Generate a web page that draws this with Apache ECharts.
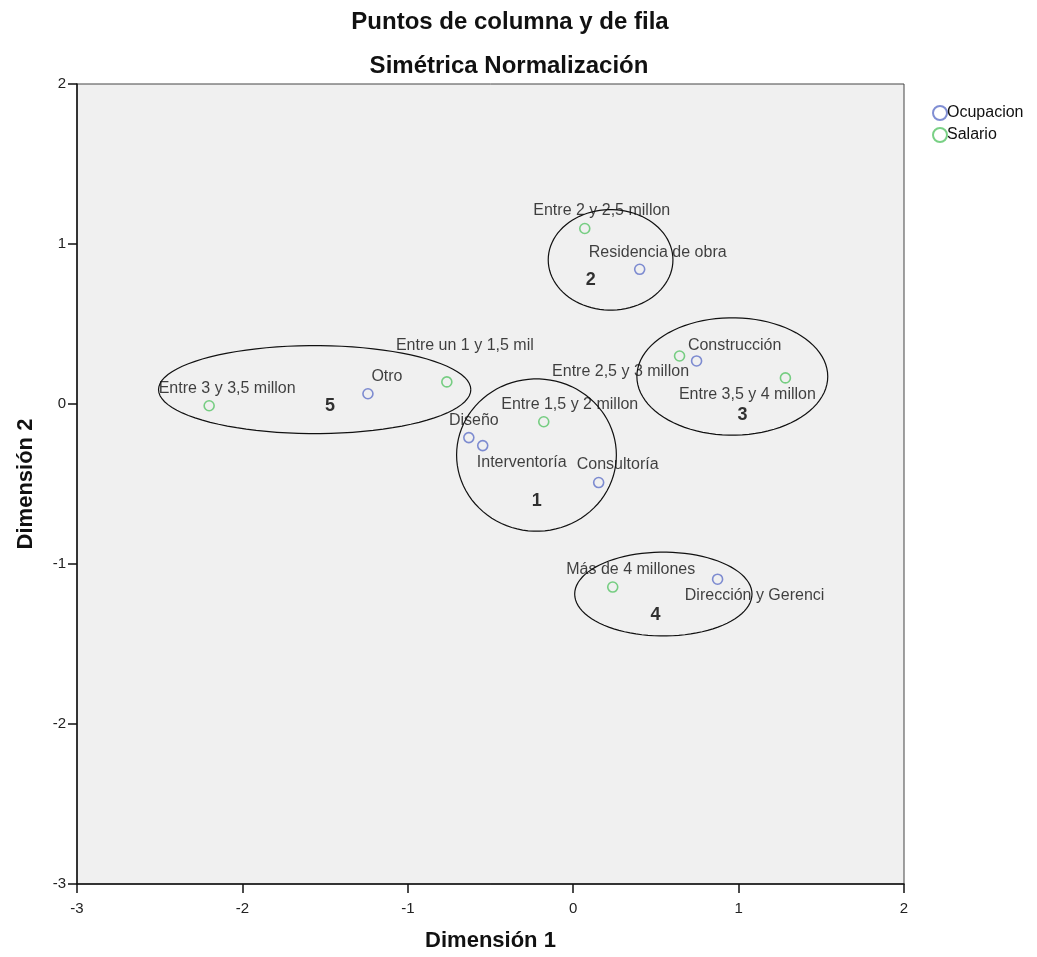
<!DOCTYPE html>
<html>
<head>
<meta charset="utf-8">
<script src="https://cdn.jsdelivr.net/npm/echarts@6/dist/echarts.min.js"></script>
<style>
html,body{margin:0;padding:0;background:#fff;}
#chart{width:1037px;height:957px;}
</style>
</head>
<body>
<div id="chart"></div>
<script>
// ---- data ----
const ocupNames = ["Residencia de obra","Construcción","Otro","Diseño","Interventoría","Consultoría","Dirección y Gerenci"];
const ocupX = [0.402, 0.746, -1.241, -0.631, -0.547, 0.154, 0.873];
const ocupY = [0.842, 0.269, 0.064, -0.210, -0.260, -0.491, -1.095];

const salNames = ["Entre 2 y 2,5 millon","Entre un 1 y 1,5 mil","Entre 3 y 3,5 millon","Entre 1,5 y 2 millon","Entre 2,5 y 3 millon","Entre 3,5 y 4 millon","Más de 4 millones"];
const salX = [0.070, -0.764, -2.201, -0.178, 0.643, 1.283, 0.239];
const salY = [1.097, 0.138, -0.011, -0.111, 0.300, 0.163, -1.144];

const clusterIds = ["1","2","3","4","5"];
const clusterCx = [-0.222, 0.226, 0.962, 0.545, -1.563];
const clusterCy = [-0.319, 0.901, 0.172, -1.188, 0.090];
const clusterRx = [0.483, 0.377, 0.577, 0.536, 0.944];
const clusterRy = [0.476, 0.314, 0.367, 0.262, 0.275];
const clusterLabelX = [-0.220, 0.106, 1.024, 0.498, -1.470];
const clusterLabelY = [-0.609, 0.773, -0.067, -1.319, -0.011];

const xTicks = [-3,-2,-1,0,1,2];
const yTicks = [-3,-2,-1,0,1,2];

// ---- label placement (pixels, style only) ----
const labelOffsets = {
  "Residencia de obra":[18,-17],
  "Construcción":[38,-15],
  "Otro":[19,-17],
  "Diseño":[5,-17],
  "Interventoría":[39,17],
  "Consultoría":[19,-18],
  "Dirección y Gerenci":[37,16],
  "Entre 2 y 2,5 millon":[17,-18],
  "Entre un 1 y 1,5 mil":[18,-36],
  "Entre 3 y 3,5 millon":[18,-17],
  "Entre 1,5 y 2 millon":[26,-17],
  "Entre 2,5 y 3 millon":[-59,16],
  "Entre 3,5 y 4 millon":[-38,17],
  "Más de 4 millones":[18,-17]
};

const FONT = '"Liberation Sans", Arial, sans-serif';
const BLUE = '#6072c8';
const GREEN = '#58c466';

function pts(names, xs, ys){
  return names.map((n,i)=>({
    name:n, value:[xs[i], ys[i]],
    label:{offset: labelOffsets[n] || [0,-16]}
  }));
}

const ellipseData = clusterIds.map((id,i)=>[clusterCx[i], clusterCy[i], clusterRx[i], clusterRy[i]]);
const clusterLabelData = clusterIds.map((id,i)=>({name:id, value:[clusterLabelX[i], clusterLabelY[i]]}));

const chart = echarts.init(document.getElementById('chart'), null, {renderer:'canvas'});
const option = {
  animation:false,
  backgroundColor:'#ffffff',
  title:[
    {text:'Puntos de columna y de fila', left:505, top:5, textAlign:'center',
     textStyle:{fontFamily:FONT, fontSize:24, fontWeight:'bold', color:'#111'}},
    {text:'Simétrica Normalización', left:504, top:49, textAlign:'center',
     textStyle:{fontFamily:FONT, fontSize:24, fontWeight:'bold', color:'#111'}}
  ],
  legend:{
    orient:'vertical', left:927, top:100, itemWidth:14, itemHeight:14, itemGap:6,
    textStyle:{fontFamily:FONT, fontSize:16, color:'#111', padding:[0,0,0,-5]},
    data:[{name:'Ocupacion', icon:'circle'},{name:'Salario', icon:'circle'}]
  },
  grid:{left:77, right:133, top:84, bottom:70, show:true, backgroundColor:'#f0f0f0', borderColor:'#444', borderWidth:1},
  xAxis:{
    type:'value', min:xTicks[0], max:xTicks[xTicks.length-1], interval:1,
    name:'Dimensión 1', nameLocation:'middle', nameGap:46,
    nameTextStyle:{fontFamily:FONT, fontSize:22, fontWeight:'bold', color:'#111'},
    axisLine:{show:true, onZero:false, lineStyle:{color:'#111', width:1.5}},
    axisTick:{show:true, length:9, lineStyle:{color:'#111', width:1.5}},
    axisLabel:{fontFamily:FONT, fontSize:15, color:'#222', margin:17},
    splitLine:{show:false}
  },
  yAxis:{
    type:'value', min:yTicks[0], max:yTicks[yTicks.length-1], interval:1,
    name:'Dimensión 2', nameLocation:'middle', nameGap:40, nameRotate:90,
    nameTextStyle:{fontFamily:FONT, fontSize:22, fontWeight:'bold', color:'#111'},
    axisLine:{show:true, onZero:false, lineStyle:{color:'#111', width:1.5}},
    axisTick:{show:true, length:9, lineStyle:{color:'#111', width:1.5}},
    axisLabel:{fontFamily:FONT, fontSize:15, color:'#222', margin:11},
    splitLine:{show:false}
  },
  series:[
    {
      type:'custom', name:'clusters', silent:true, z:1,
      data:ellipseData,
      renderItem:function(params, api){
        const cx = api.value(0), cy = api.value(1), rx = api.value(2), ry = api.value(3);
        const points = [];
        const N = 90;
        for(let k=0;k<=N;k++){
          const t = 2*Math.PI*k/N;
          points.push(api.coord([cx + rx*Math.cos(t), cy + ry*Math.sin(t)]));
        }
        return {type:'polyline', shape:{points:points}, style:{stroke:'#111', lineWidth:1.2, fill:null}};
      }
    },
    {
      type:'scatter', name:'clusterLabels', silent:true, symbolSize:0, z:3,
      data:clusterLabelData,
      label:{show:true, position:'inside', formatter:'{b}', fontFamily:FONT, fontSize:18, fontWeight:'bold', color:'#000'}
    },
    {
      type:'scatter', name:'Ocupacion', symbol:'circle', symbolSize:10, z:4,
      itemStyle:{color:'rgba(0,0,0,0)', borderColor:BLUE, borderWidth:1.6},
      label:{show:true, position:'inside', formatter:'{b}', fontFamily:FONT, fontSize:16, color:'#111'},
      data:pts(ocupNames, ocupX, ocupY)
    },
    {
      type:'scatter', name:'Salario', symbol:'circle', symbolSize:10, z:4,
      itemStyle:{color:'rgba(0,0,0,0)', borderColor:GREEN, borderWidth:1.6},
      label:{show:true, position:'inside', formatter:'{b}', fontFamily:FONT, fontSize:16, color:'#111'},
      data:pts(salNames, salX, salY)
    }
  ]
};
chart.setOption(option);
</script>
</body>
</html>
